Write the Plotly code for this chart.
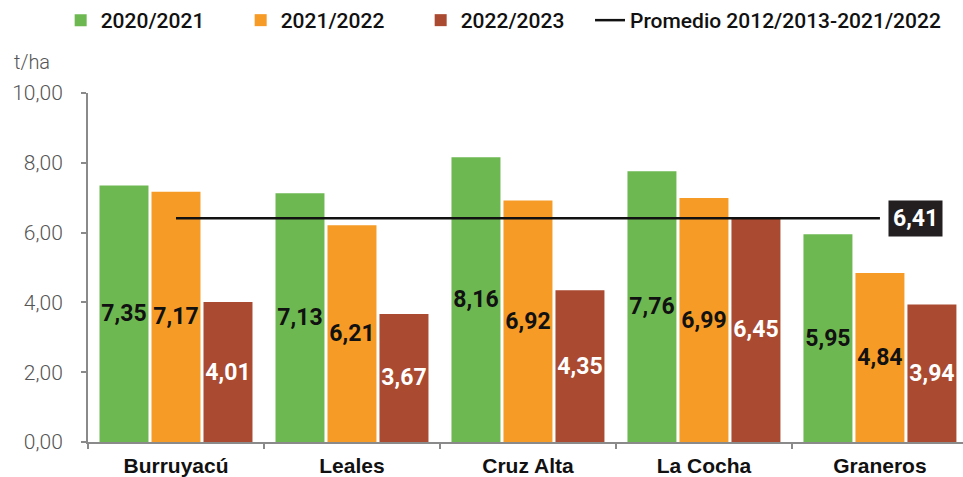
import plotly.graph_objects as go

# Rendimiento por departamento (t/ha)
departamentos = ["Burruyacú", "Leales", "Cruz Alta", "La Cocha", "Graneros"]
campanias = ["2020/2021", "2021/2022", "2022/2023"]
rend_2020_2021 = [7.35, 7.13, 8.16, 7.76, 5.95]
rend_2021_2022 = [7.17, 6.21, 6.92, 6.99, 4.84]
rend_2022_2023 = [4.01, 3.67, 4.35, 6.45, 3.94]
promedio_nombre = "Promedio 2012/2013-2021/2022"
promedio_valor = 6.41
y_ticks = [0, 2, 4, 6, 8, 10]

colores = ["#6EB852", "#F69B26", "#AA4A30"]
colores_texto = ["#111111", "#111111", "#FFFFFF"]
series = [rend_2020_2021, rend_2021_2022, rend_2022_2023]

label_font = "Roboto, Liberation Sans, sans-serif"


def coma(v):
    return f"{v:.2f}".replace(".", ",")


fig = go.Figure()
for nombre, valores, color, ctexto in zip(campanias, series, colores, colores_texto):
    fig.add_trace(go.Bar(
        name=nombre,
        x=departamentos,
        y=valores,
        marker=dict(color=color, line=dict(width=0)),
        text=[coma(v) for v in valores],
        textposition="inside",
        insidetextanchor="middle",
        textangle=0,
        constraintext="none",
        textfont=dict(family=label_font, size=23, color=ctexto, weight="bold"),
        hoverinfo="skip",
        legend="legend",
    ))

fig.add_trace(go.Scatter(
    name=promedio_nombre,
    x=departamentos,
    y=[promedio_valor] * len(departamentos),
    mode="lines",
    line=dict(color="#111111", width=2.5),
    hoverinfo="skip",
    legend="legend2",
))

fig.add_annotation(
    x=departamentos[-1], y=promedio_valor, xref="x", yref="y",
    xshift=36,
    text=coma(promedio_valor),
    showarrow=False,
    font=dict(family=label_font, size=23, color="#FFFFFF", weight="bold"),
    bgcolor="#231F20",
    borderpad=4,
    xanchor="center", yanchor="middle",
)

fig.add_annotation(
    x=-0.087, y=1.089, xref="paper", yref="paper",
    text="t/ha", showarrow=False,
    font=dict(family="Roboto", size=20, color="#555555", weight=300),
    xanchor="left", yanchor="middle",
)

legend_font = dict(family="Roboto", size=21, color="#111111", weight=500)
axis_gray = "#8A8A8A"
fig.update_layout(
    width=963, height=477,
    margin=dict(l=88, r=0, t=93, b=35),
    paper_bgcolor="white", plot_bgcolor="white",
    barmode="group", bargap=0.1136, bargroupgap=0.058,
    separators=",.",
    uniformtext=dict(minsize=23, mode="show"),
    showlegend=True,
    legend=dict(
        orientation="h", xref="container", yref="container",
        x=0.063, y=1.0, xanchor="left", yanchor="top",
        font=legend_font,
        entrywidth=135, entrywidthmode="pixels",
        traceorder="normal",
        bgcolor="rgba(0,0,0,0)",
    ),
    legend2=dict(
        orientation="h", xref="container", yref="container",
        x=0.6127, y=1.0, xanchor="left", yanchor="top",
        font=legend_font,
        bgcolor="rgba(0,0,0,0)",
    ),
    xaxis=dict(
        type="category", range=[-0.5, 4.472],
        showline=True, linecolor=axis_gray, linewidth=2,
        ticks="outside", tickson="boundaries", ticklen=5, tickcolor=axis_gray, tickwidth=1.5,
        ticklabelstandoff=4,
        tickfont=dict(family="Liberation Sans, Arial, sans-serif", size=21, color="#111111", weight="bold"),
        showgrid=False, zeroline=False, fixedrange=True,
    ),
    yaxis=dict(
        range=[0, 10], tickvals=y_ticks, tickformat=".2f",
        showline=True, linecolor=axis_gray, linewidth=2,
        ticks="outside", ticklen=5, tickcolor=axis_gray, tickwidth=1.5,
        ticklabelstandoff=14,
        tickfont=dict(family="Roboto", size=21, color="#555555", weight=300),
        showgrid=False, zeroline=False, fixedrange=True,
    ),
)

fig.write_html("out.html", config={"displayModeBar": False})
